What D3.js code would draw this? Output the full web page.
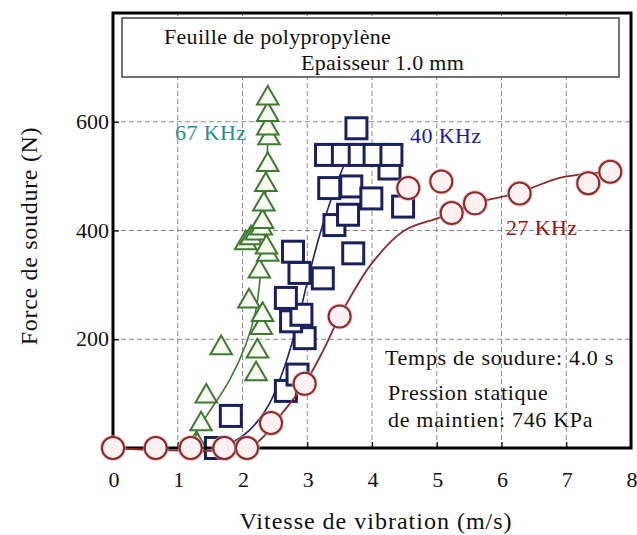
<!DOCTYPE html>
<html><head><meta charset="utf-8">
<script src="https://cdn.jsdelivr.net/npm/d3@7"></script>
<style>body{margin:0;background:#fff}svg{display:block}text{font-family:"Liberation Serif","Times New Roman",serif}</style>
</head><body><svg id="c" width="637" height="535"></svg>
<script>
// ---- data ----
const xTicks = [0,1,2,3,4,5,6,7,8];
const yTicks = [200,400,600];
// 67 KHz (triangles)
const tri67X = [1.30,1.36,1.44,1.67,2.05,2.13,2.21,2.10,2.21,2.23,2.29,2.31,2.26,2.39,2.29,2.31,2.33,2.36,2.39,2.41,2.39,2.39,2.39,2.37];
const tri67Y = [5,44,95,184,377,386,395,270,136,178,221,245,325,356,404,416,448,484,521,570,588,613,643,369];
// 40 KHz (squares)
const sq40X = [1.59,1.82,2.67,2.85,2.96,2.75,2.91,2.67,2.88,3.24,2.78,3.71,3.42,3.63,3.34,3.68,3.99,4.48,4.27,3.29,3.55,3.81,4.04,4.30,3.76];
const sq40Y = [0,59,105,135,202,233,245,276,322,312,361,358,410,429,478,481,459,444,514,539,539,539,539,539,588];
// 27 KHz (circles)
const c27X = [0,0.66,1.20,1.72,2.07,2.44,2.96,3.50,4.56,5.07,5.23,5.59,6.28,7.34,7.68];
const c27Y = [0,0,0,0,0,46,118,242,478,490,432,450,468,487,508];
// fitted curves
const fit67X = [1.12,1.45,1.8,2.05,2.2,2.28,2.33,2.37,2.40,2.42];
const fit67Y = [0,60,125,190,250,320,400,500,600,650];
const fit40X = [1.55,1.8,2.1,2.4,2.65,2.85,3.0,3.2,3.4,3.55,3.68];
const fit40Y = [0,8,32,78,150,230,305,395,468,515,548];
const fit27X = [0,2.07,2.3,2.6,2.96,3.25,3.5,4.0,4.5,5.0,5.23,5.59,6.28,6.9,7.68];
const fit27Y = [0,0,18,62,118,180,242,340,400,422,432,450,470,497,508];

const svg = d3.select("#c");
const L=113, R=631, T=13, B=448;
const x = d3.scaleLinear().domain([0,8]).range([L,R]);
const y = d3.scaleLinear().domain([0,800]).range([B,T]);

svg.append("rect").attr("width",637).attr("height",535).attr("fill","#fff");

// grid
const g = svg.append("g");
g.selectAll(".vg").data(xTicks.slice(1,-1)).join("line")
  .attr("x1",d=>x(d)).attr("x2",d=>x(d)).attr("y1",y(0)).attr("y2",y(800))
  .attr("stroke","#8a8a8a").attr("stroke-width",1).attr("stroke-dasharray","5,3");
g.selectAll(".hg").data(yTicks).join("line")
  .attr("x1",x(0)).attr("x2",x(8)).attr("y1",d=>y(d)).attr("y2",d=>y(d))
  .attr("stroke","#8a8a8a").attr("stroke-width",1).attr("stroke-dasharray","5,3");

// header box
svg.append("rect").attr("x",122).attr("y",18).attr("width",497).attr("height",59)
  .attr("fill","#fff").attr("stroke","#444").attr("stroke-width",1.5);
svg.append("text").attr("x",164).attr("y",44).attr("font-size",22).attr("letter-spacing",0.3).attr("fill","#111").text("Feuille de polypropylène");
svg.append("text").attr("x",301).attr("y",70).attr("font-size",22).attr("letter-spacing",0.3).attr("fill","#111").text("Epaisseur 1.0 mm");

// axes ticks (inward)
svg.append("g").attr("transform",`translate(0,${B})`)
  .call(d3.axisBottom(x).tickValues(xTicks).tickSize(-6).tickFormat(""))
  .call(a=>a.select(".domain").remove())
  .call(a=>a.selectAll("line").attr("stroke","#000").attr("stroke-width",1.2));
svg.append("g").attr("transform",`translate(${L},0)`)
  .call(d3.axisLeft(y).tickValues(yTicks).tickSize(-6).tickFormat(""))
  .call(a=>a.select(".domain").remove())
  .call(a=>a.selectAll("line").attr("stroke","#000").attr("stroke-width",1.2));

// tick labels
svg.selectAll(".xl").data(xTicks).join("text")
  .attr("x",d=>x(d)+1).attr("y",487).attr("text-anchor","middle").attr("font-size",22).attr("fill","#111").text(d=>d);
svg.selectAll(".yl").data(yTicks).join("text")
  .attr("x",109).attr("y",d=>y(d)+7).attr("text-anchor","end").attr("font-size",22).attr("fill","#111").text(d=>d);

// axis titles
svg.append("text").attr("x",376).attr("y",529).attr("text-anchor","middle").attr("font-size",24).attr("letter-spacing",1).attr("fill","#111").text("Vitesse de vibration (m/s)");
svg.append("text").attr("transform","translate(37,236) rotate(-90)").attr("text-anchor","middle").attr("font-size",24).attr("letter-spacing",0.7).attr("fill","#111").text("Force de soudure (N)");

const line = d3.line().x(d=>x(d[0])).y(d=>y(d[1])).curve(d3.curveCatmullRom.alpha(0.5));

// 67 KHz
const tri = d3.symbol().type(d3.symbolTriangle).size(200);
svg.append("path").datum(d3.zip(fit67X,fit67Y)).attr("d",line).attr("fill","none").attr("stroke","#3d7a2e").attr("stroke-width",1.6);
svg.selectAll(".tri").data(d3.zip(tri67X,tri67Y)).join("path")
  .attr("d",tri).attr("transform",d=>`translate(${x(d[0])},${y(d[1])})`)
  .attr("fill","#f7faf2").attr("stroke","#3d7a2e").attr("stroke-width",2);

// 40 KHz
svg.append("path").datum(d3.zip(fit40X,fit40Y)).attr("d",line).attr("fill","none").attr("stroke","#1b2270").attr("stroke-width",1.6);
const s=21;
svg.selectAll(".sq").data(d3.zip(sq40X,sq40Y)).join("rect")
  .attr("x",d=>x(d[0])-s/2).attr("y",d=>y(d[1])-s/2).attr("width",s).attr("height",s)
  .attr("fill","#fff").attr("stroke","#1b1f5e").attr("stroke-width",3);

// frame
svg.append("rect").attr("x",L).attr("y",T).attr("width",R-L).attr("height",B-T)
  .attr("fill","none").attr("stroke","#000").attr("stroke-width",3);

// 27 KHz
svg.append("path").datum(d3.zip(fit27X,fit27Y)).attr("d",line).attr("fill","none").attr("stroke","#8e2a2a").attr("stroke-width",1.8);
const cg = svg.selectAll(".ci").data(d3.zip(c27X,c27Y)).join("g").attr("transform",d=>`translate(${x(d[0])},${y(d[1])})`);
cg.append("circle").attr("r",11).attr("fill","none").attr("stroke","#f0a0a0").attr("stroke-width",4).attr("opacity",0.6);
cg.append("circle").attr("r",11).attr("fill","#fdf0f0").attr("stroke","#8a2a2a").attr("stroke-width",2);

// labels
svg.append("text").attr("x",175).attr("y",140).attr("font-size",22).attr("letter-spacing",0.4).attr("fill","#1f9090").text("67 KHz");
svg.append("text").attr("x",410).attr("y",143).attr("font-size",22).attr("letter-spacing",0.4).attr("fill","#1a1aa8").text("40 KHz");
svg.append("text").attr("x",506).attr("y",235).attr("font-size",22).attr("letter-spacing",0.4).attr("fill","#a01010").text("27 KHz");
svg.append("text").attr("x",385).attr("y",365).attr("font-size",22).attr("letter-spacing",0.7).attr("fill","#111").text("Temps de soudure: 4.0 s");
svg.append("text").attr("x",388).attr("y",400).attr("font-size",22).attr("letter-spacing",0.7).attr("fill","#111").text("Pression statique");
svg.append("text").attr("x",388).attr("y",427).attr("font-size",22).attr("letter-spacing",0.7).attr("fill","#111").text("de maintien: 746 KPa");
</script></body></html>
